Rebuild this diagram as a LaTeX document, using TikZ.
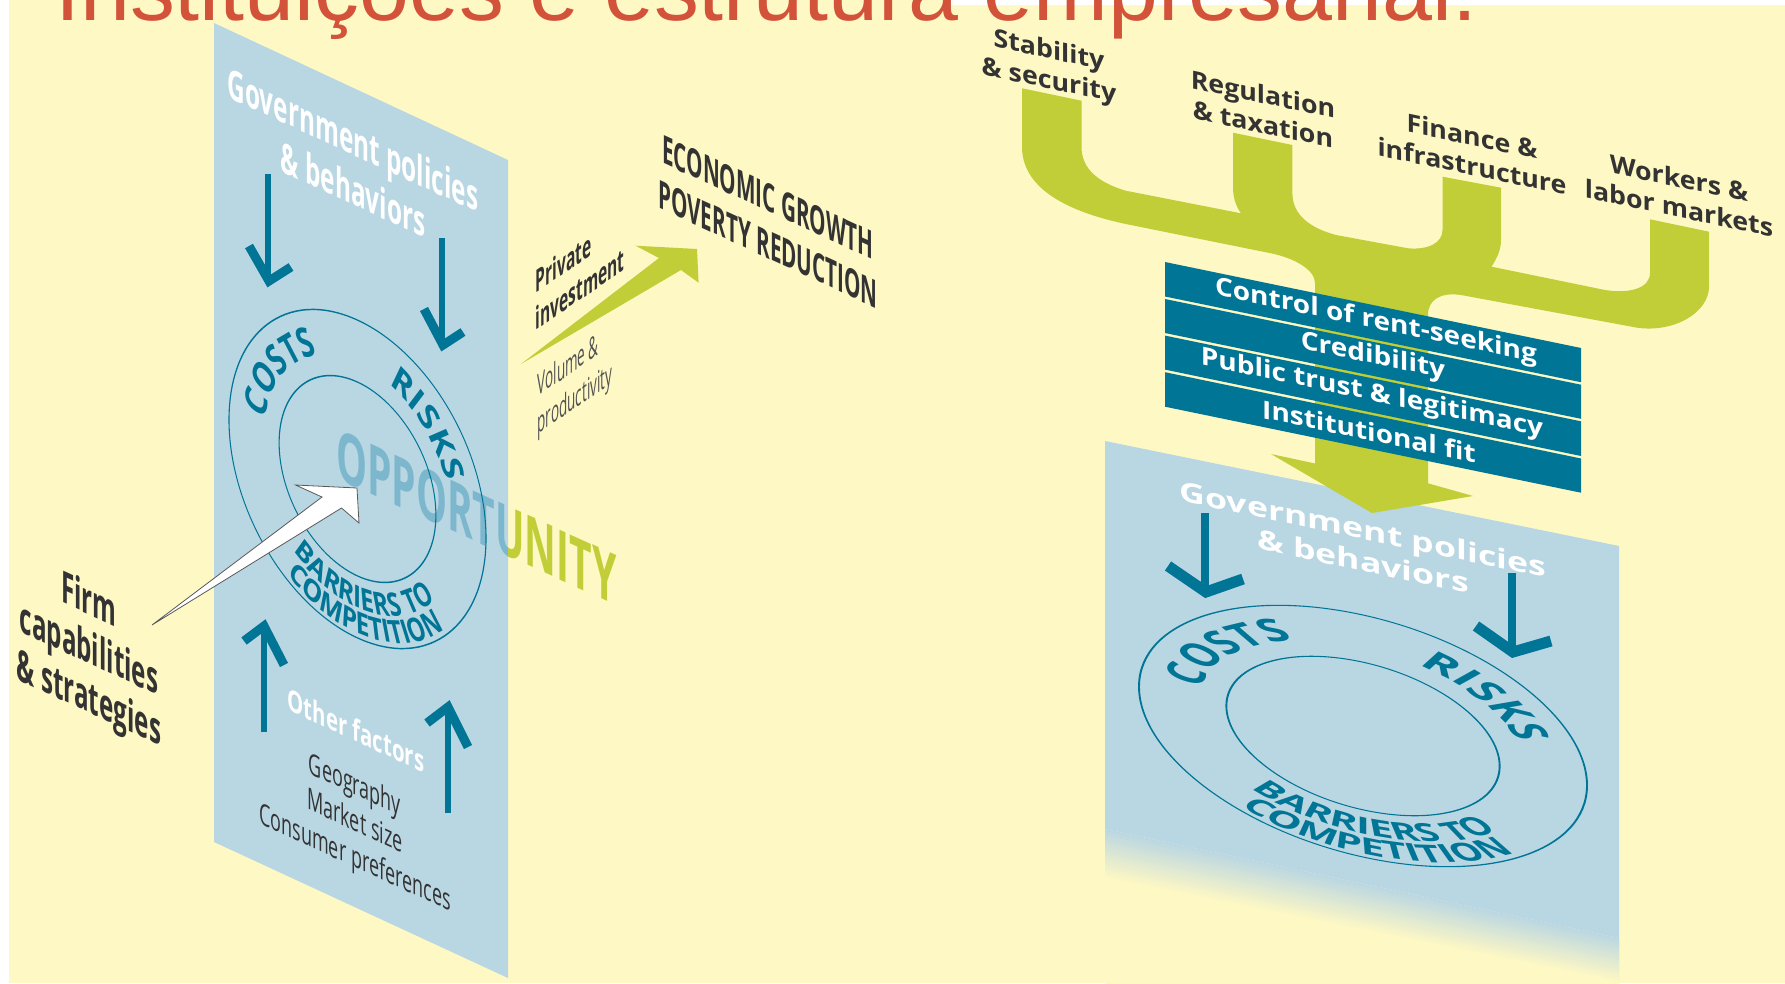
\documentclass[tikz,border=0pt]{standalone}
\usepackage{fontspec}
\setmainfont{Open Sans}
\newfontfamily\titlefont{Liberation Sans}
\usetikzlibrary{decorations.text}
\definecolor{bgy}{HTML}{FEF8C4}
\definecolor{panelb}{HTML}{B9D6E3}
\definecolor{tealb}{HTML}{007595}
\definecolor{greenb}{HTML}{C1CE38}
\definecolor{titler}{HTML}{D3523A}
\definecolor{darkt}{HTML}{333333}
\definecolor{opb}{HTML}{7DB7CE}
\newcommand\fs[2]{\fontsize{#1}{#2}\selectfont}
\tikzset{
  x=1pt,y=-1pt,
  skew/.style n args={3}{yslant=-(#1),xscale=#2,yscale=#3,transform shape,inner sep=0pt,align=center},
  tearrow/.style={draw=tealb,line width=#1,miter limit=10},
}
\newcommand\ringtext[1]{%
  \draw[tealb,line width=.85pt] (0,0) circle[radius=100];
  \draw[tealb,line width=.85pt] (0,0) circle[radius=61];
  \path[decorate,decoration={text along path,text align=center,
     text={|\fs{23.5}{26}\bfseries\color{tealb}|COSTS}}]
     (183.5:73) arc[start angle=183.5,end angle=103.5,radius=73];
  \path[decorate,decoration={text along path,text align=center,
     text={|\fs{23.5}{26}\bfseries\color{tealb}|RISKS}}]
     (85:73) arc[start angle=85,end angle=5,radius=73];
  \path[decorate,decoration={text along path,text align=center,
     text={|\fs{19}{19}\bfseries\color{tealb}|BARRIERS TO}}]
     (215:81) arc[start angle=215,end angle=335,radius=81];
  \path[decorate,decoration={text along path,text align=center,
     text={|\fs{19}{19}\bfseries\color{tealb}|COMPETITION}}]
     (215:97) arc[start angle=215,end angle=335,radius=97];
}
\begin{document}
\begin{tikzpicture}
\useasboundingbox (0,0) rectangle (1785,983);
\clip (0,0) rectangle (1785,983);
% background
\fill[white] (0,0) rectangle (1785,983);
\fill[bgy] (9,0) rectangle (1785,983);
\fill[white] (945,0) rectangle (1785,5);
% title
\node[anchor=base west,inner sep=0pt,text=titler] (title) at (55,20) {\titlefont\fs{89.8}{96}Instituições e estrutura empresarial:};
% left panel
\fill[panelb] (214,23) -- (508,160) -- (508,978) -- (214,842) -- cycle;
% OPPORTUNITY
\begin{scope}
\clip (214,23) -- (508,160) -- (508,978) -- (214,842) -- cycle;
\node[skew={.455}{.557}{1},anchor=base west,text=opb,font=\bfseries\fs{70}{70}] (opp1) at (336,478) {OPPORTU\phantom{NITY}};
\end{scope}
\begin{scope}
\clip (508,300) rectangle (700,700);
\node[skew={.455}{.557}{1},anchor=base west,text=greenb,font=\bfseries\fs{70}{70}] (opp2) at (336,478) {\phantom{OPPORT}UNITY};
\end{scope}
% left rings
\begin{scope}[transform canvas={shift={(357.5pt,-479pt)},yslant=-.46,xscale=1.285,yscale=1.589},y=1pt]
\ringtext{}
\end{scope}
% left arrows
\draw[tearrow=5.5pt] (268,174) -- (268,280);
\draw[tearrow=9pt] (249,246) -- (269,281) -- (291,267);
\draw[tearrow=5.5pt] (442,238) -- (442,345);
\draw[tearrow=9pt] (424,309) -- (443,345) -- (463,332);
\draw[tearrow=5.5pt] (264,732) -- (264,626);
\draw[tearrow=9pt] (244,641) -- (264,626) -- (284,665);
\draw[tearrow=5.5pt] (448,813) -- (448,707);
\draw[tearrow=9pt] (427,723) -- (448,707) -- (468,747);
% left labels
\node[skew={.46}{.58}{1},text=white,font=\bfseries\fs{42}{50}] (gov1) at (353,164) {Government policies\\\& behaviors};
\node[skew={.46}{.68}{1},text=white,font=\bfseries\fs{30}{36}] (other) at (356,730) {Other factors};
\node[skew={.46}{.6}{1},text=darkt,font=\fs{30}{36.5}] (geo) at (355,823) {Geography\\Market size\\Consumer preferences};
\node[skew={.46}{.55}{1},text=darkt,font=\bfseries\fs{44}{49}] (firm) at (89,652) {Firm\\capabilities\\\& strategies};
\node[skew={.46}{.53}{1},text=darkt,font=\bfseries\fs{39}{47}] (econ) at (768,221) {ECONOMIC GROWTH\\POVERTY REDUCTION};
% green arrow
\fill[greenb] (521,364) -- (659,258) -- (635.5,245.7) -- (697,249) -- (698.6,282.7) -- (681,270) -- cycle;
\node[skew={-.68}{.5}{1},text=darkt,font=\bfseries\fs{31}{37},align=left] (priv) at (580,270) {Private\\investment};
\node[skew={-.68}{.45}{1},text=darkt!85,font=\fs{30}{38},align=left] (vol) at (575,382) {Volume \&\\productivity};
% white arrow
\filldraw[fill=white,draw=black!65,line width=.8pt] (152,625) -- (322,497) -- (295.5,485) -- (357,488) -- (359,523) -- (341.5,508) -- cycle;
% right panel
\fill[panelb] (1105,441) -- (1619,546) -- (1619,938) -- (1105,829) -- cycle;
\foreach \i in {1,...,25}{
  \pgfmathsetmacro\mixv{4*\i}
  \pgfmathsetmacro\ya{829+2.0*(\i-1)}
  \pgfmathsetmacro\yb{938+1.8*(\i-1)}
  \fill[bgy!\mixv!panelb] (1105,\ya) -- (1619,\yb) -- (1619,\yb+4) -- (1105,\ya+4) -- cycle;
}
\fill[bgy] (1105,879) -- (1619,983) -- (1619,990) -- (1105,990) -- cycle;
% tree
\fill[greenb] (1022,88.3) -- (1081.5,100.7) -- (1081.5,146.7)
  .. controls (1081.5,170) and (1100,183) .. (1125.7,190.7)
  -- (1241,213.3) .. controls (1235,205) and (1233,196) .. (1233,186.7)
  -- (1233,132.7) -- (1292.4,145) -- (1292.4,193)
  .. controls (1292.4,215) and (1310,228) .. (1336,235)
  -- (1408,248.3) .. controls (1428,250) and (1442.5,243) .. (1442.5,230)
  -- (1442.5,176.7) -- (1501,187.7) -- (1501,240)
  .. controls (1501,250) and (1497,258) .. (1491.5,266.7)
  -- (1605,290) .. controls (1630,294) and (1650,288) .. (1650,273)
  -- (1650,219.3) -- (1709,231.7) -- (1709,286.7)
  .. controls (1709,312) and (1675,333) .. (1637,327.7)
  -- (1461,295) .. controls (1440,292) and (1428,300) .. (1428,315)
  -- (1428,483.3) -- (1473,496) -- (1372,513) -- (1271,454) -- (1315,463.5)
  -- (1315,283) .. controls (1315,270) and (1295,258) .. (1269.5,253)
  -- (1125.7,224) .. controls (1060,210) and (1022,185) .. (1022,146.7) -- cycle;
% bars
\fill[tealb] (1165,262) -- (1581,348) -- (1581,382.2) -- (1165,296.5) -- cycle;
\fill[tealb] (1165,299) -- (1581,384.7) -- (1581,418.8) -- (1165,333) -- cycle;
\fill[tealb] (1165,335.6) -- (1581,421.3) -- (1581,456) -- (1165,369.6) -- cycle;
\fill[tealb] (1165,372.2) -- (1581,458.5) -- (1581,492.7) -- (1165,406.7) -- cycle;
\node[skew={.21}{1.12}{1},text=white,font=\bfseries\fs{25}{30}] (b1) at (1376,322) {Control of rent-seeking};
\node[skew={.21}{1.12}{1},text=white,font=\bfseries\fs{25}{30}] (b2) at (1373,357) {Credibility};
\node[skew={.21}{1.12}{1},text=white,font=\bfseries\fs{25}{30}] (b3) at (1372,394) {Public trust \& legitimacy};
\node[skew={.21}{1.12}{1},text=white,font=\bfseries\fs{25}{30}] (b4) at (1369,431) {Institutional fit};
% top labels
\node[skew={.21}{1.07}{1},text=darkt,font=\bfseries\fs{25}{30}] (l1) at (1049,67) {Stability\\\& security};
\node[skew={.21}{1.07}{1},text=darkt,font=\bfseries\fs{25}{30}] (l2) at (1263,109) {Regulation\\\& taxation};
\node[skew={.21}{1.07}{1},text=darkt,font=\bfseries\fs{25}{30}] (l3) at (1472,151) {Finance \&\\infrastructure};
\node[skew={.21}{1.07}{1},text=darkt,font=\bfseries\fs{25}{30}] (l4) at (1679,193) {Workers \&\\labor markets};
% right rings
\begin{scope}[transform canvas={shift={(1363pt,-736pt)},yslant=-.22,xscale=2.24,yscale=1.21},y=1pt]
\ringtext{}
\end{scope}
% right arrows
\draw[tearrow=7.5pt] (1205,513) -- (1205,590);
\draw[tearrow=11pt] (1168,566) -- (1206,592) -- (1243,579);
\draw[tearrow=7.5pt] (1512,573) -- (1512,652);
\draw[tearrow=11pt] (1476,626) -- (1513,652) -- (1551,641);
\node[skew={.21}{1.32}{1},text=white,font=\bfseries\fs{27}{32}] (gov2) at (1363,545) {Government policies\\\& behaviors};
\end{tikzpicture}
\end{document}
